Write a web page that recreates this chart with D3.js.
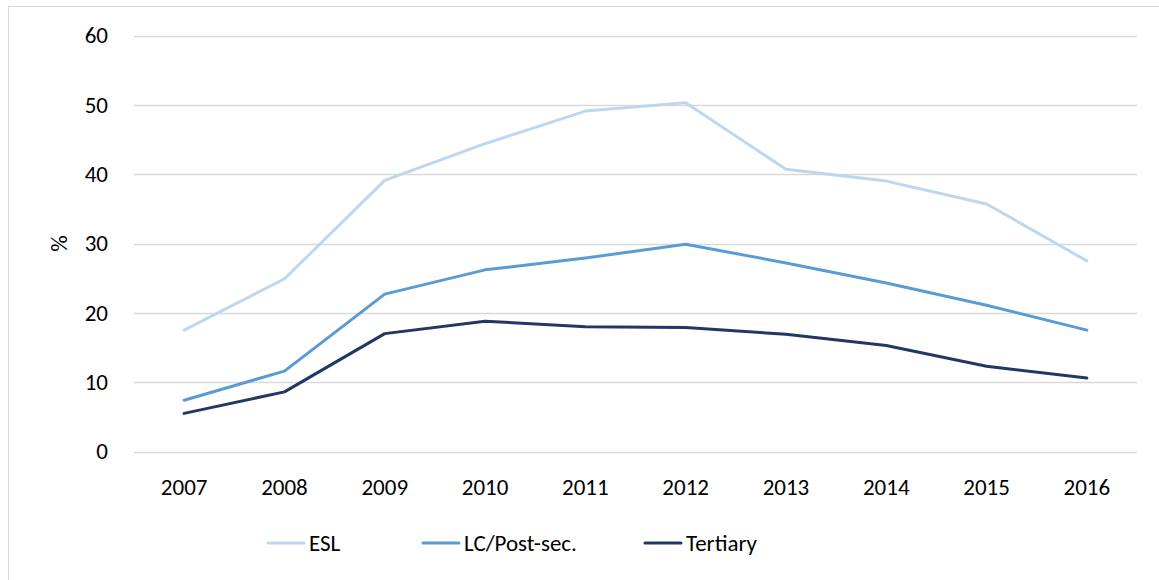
<!DOCTYPE html>
<html>
<head>
<meta charset="utf-8">
<script src="https://cdn.jsdelivr.net/npm/d3@7"></script>
<style>
  body { margin: 0; background: #fff; }
  svg { display: block; font-family: Carlito, Calibri, Lato, sans-serif; }
</style>
</head>
<body>
<svg id="chart" width="1159" height="580"></svg>
<script>
const years = ['2007', '2008', '2009', '2010', '2011', '2012', '2013', '2014', '2015', '2016'];
const esl = [17.5, 24.9, 39.1, 44.4, 49.1, 50.3, 40.7, 39.0, 35.7, 27.5];
const lcPostSec = [7.4, 11.6, 22.7, 26.2, 27.9, 29.9, 27.2, 24.3, 21.1, 17.5];
const tertiary = [5.5, 8.6, 17.0, 18.8, 18.0, 17.9, 16.9, 15.3, 12.3, 10.6];
const yTicks = [0, 10, 20, 30, 40, 50, 60];
const seriesNames = ['ESL', 'LC/Post-sec.', 'Tertiary'];
const colors = ['#BDD7EE', '#5B9BD5', '#203864'];

const series = [esl, lcPostSec, tertiary].map((values, i) => ({
  name: seriesNames[i],
  color: colors[i],
  values: values
}));

const svg = d3.select('#chart');
const fontSize = 23;

// outer chart border
svg.append('rect')
  .attr('x', 8.5).attr('y', 6.5)
  .attr('width', 1170).attr('height', 600)
  .attr('fill', 'none')
  .attr('stroke', '#d9d9d9');

const plotLeft = 134, plotRight = 1137, plotTop = 35.5, plotBottom = 451.5;

const x = d3.scaleBand().domain(years).range([plotLeft, plotRight]);
const y = d3.scaleLinear().domain([0, 60]).range([plotBottom, plotTop]);

// gridlines
svg.append('g')
  .selectAll('line')
  .data(yTicks)
  .enter()
  .append('line')
  .attr('x1', plotLeft).attr('x2', plotRight)
  .attr('y1', d => Math.round(y(d)) + 0.5)
  .attr('y2', d => Math.round(y(d)) + 0.5)
  .attr('stroke', '#d9d9d9')
  .attr('stroke-width', 1.5);

// y axis labels
const yAxis = svg.append('g')
  .attr('transform', 'translate(' + (plotLeft - 26) + ',0)')
  .call(d3.axisLeft(y).tickValues(yTicks).tickSize(0).tickPadding(0));
yAxis.select('.domain').remove();
yAxis.selectAll('text')
  .attr('font-size', fontSize)
  .attr('font-family', 'Carlito, Calibri, Lato, sans-serif')
  .attr('fill', '#000');

// x axis labels
const xAxis = svg.append('g')
  .attr('transform', 'translate(0,' + (plotBottom + 27) + ')')
  .call(d3.axisBottom(x).tickSize(0).tickPadding(0));
xAxis.select('.domain').remove();
xAxis.selectAll('text')
  .attr('font-size', fontSize)
  .attr('font-family', 'Carlito, Calibri, Lato, sans-serif')
  .attr('fill', '#000');

// y title
svg.append('text')
  .attr('transform', 'translate(67,' + ((plotTop + plotBottom) / 2) + ') rotate(-90)')
  .attr('text-anchor', 'middle')
  .attr('font-size', fontSize)
  .text('%');

const line = d3.line()
  .x((d, i) => x(years[i]) + x.bandwidth() / 2)
  .y(d => y(d));

svg.append('g')
  .selectAll('path')
  .data(series)
  .enter()
  .append('path')
  .attr('d', d => line(d.values))
  .attr('fill', 'none')
  .attr('stroke', d => d.color)
  .attr('stroke-width', 3)
  .attr('stroke-linejoin', 'round')
  .attr('stroke-linecap', 'round');

// legend
const legendX = [268, 423, 645];
const legend = svg.append('g')
  .selectAll('g')
  .data(series)
  .enter()
  .append('g')
  .attr('transform', (d, i) => 'translate(' + legendX[i] + ',543)');
legend.append('line')
  .attr('x1', 0).attr('x2', 36)
  .attr('stroke', d => d.color)
  .attr('stroke-width', 3)
  .attr('stroke-linecap', 'round');
legend.append('text')
  .attr('x', 41)
  .attr('dy', '0.35em')
  .attr('font-size', fontSize)
  .text(d => d.name);
</script>
</body>
</html>
